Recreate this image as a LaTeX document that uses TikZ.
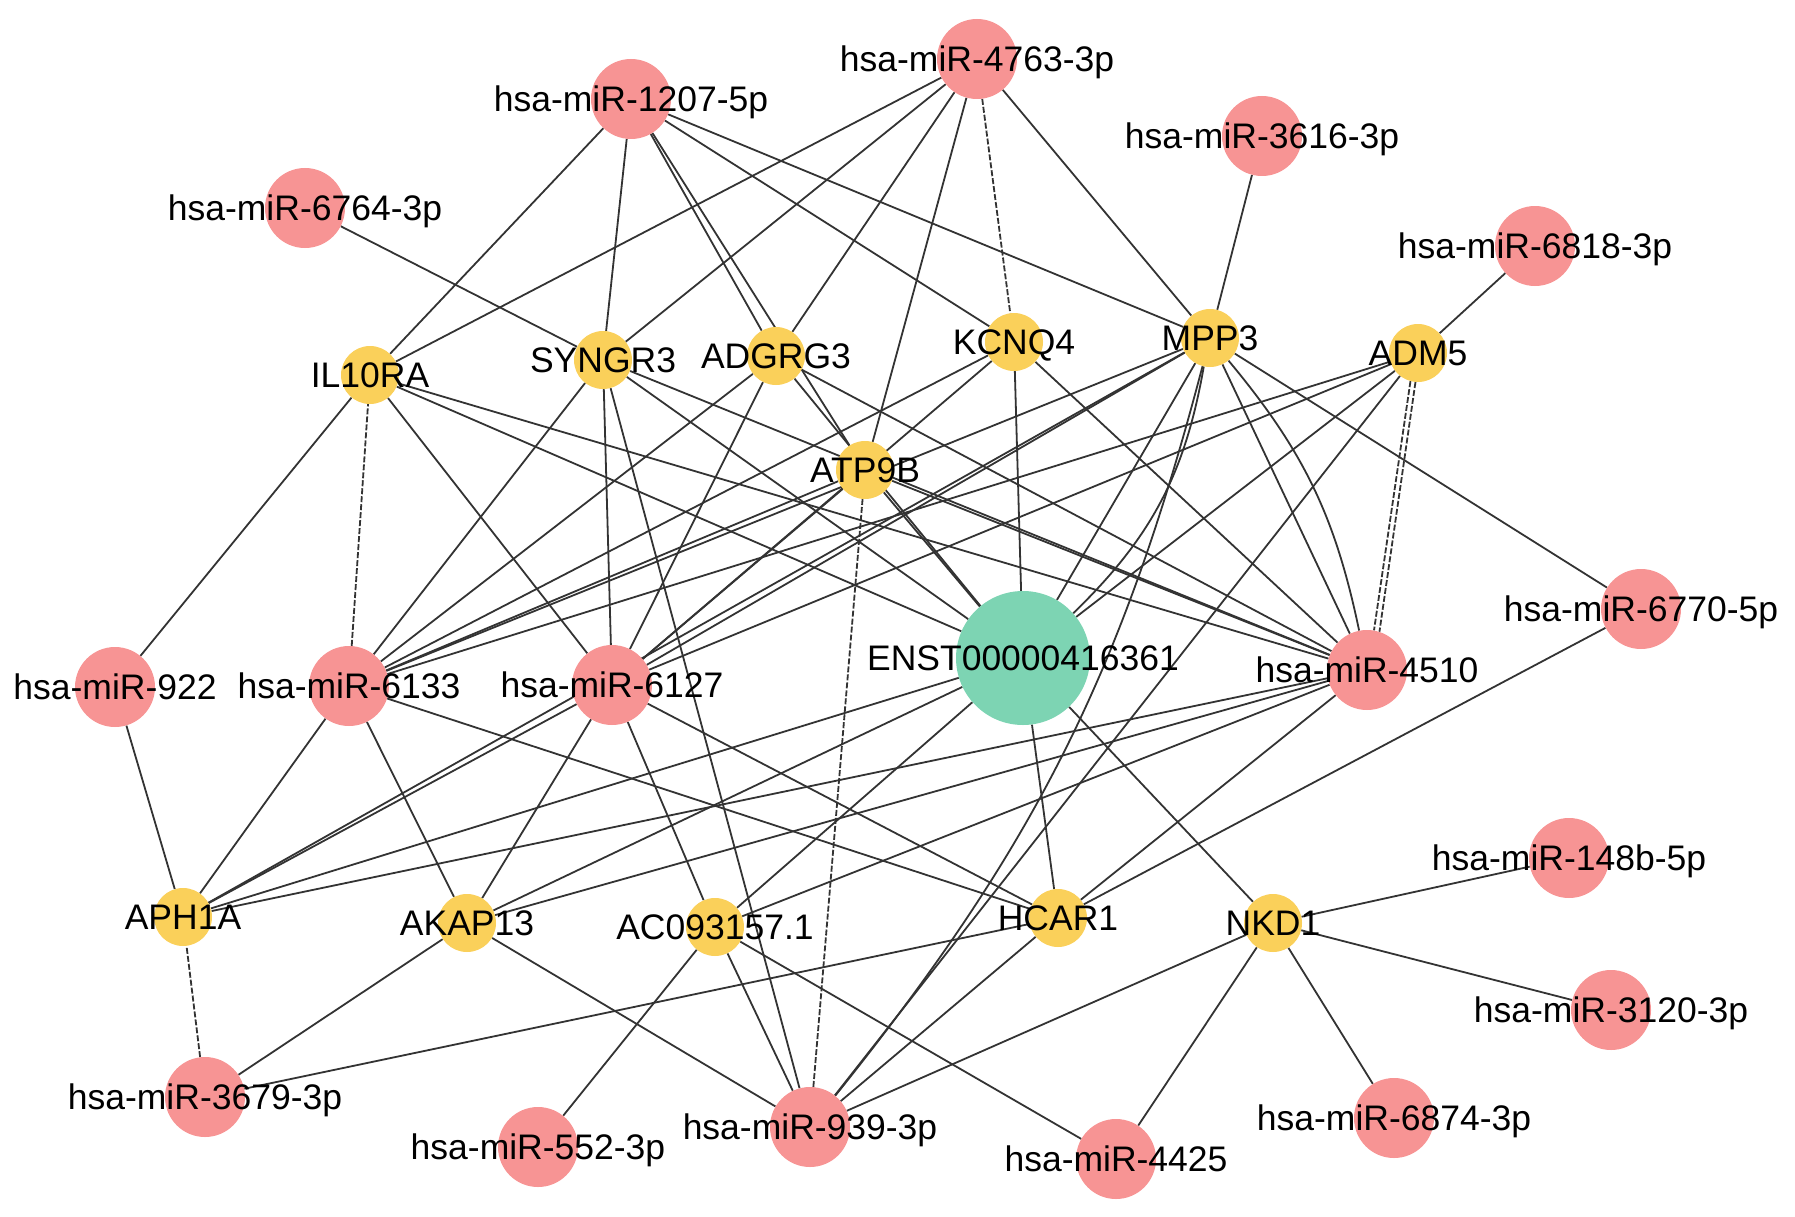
\documentclass[tikz,border=0pt]{standalone}
\usepackage{fontspec}
\setmainfont{Liberation Sans}
\newcommand\labfont{\fontsize{35.5}{40}\selectfont}
\definecolor{mirc}{HTML}{F79494}
\definecolor{genec}{HTML}{FAD05A}
\definecolor{lncc}{HTML}{7DD4B3}
\definecolor{edgec}{HTML}{333333}
\pgfdeclarelayer{bg}
\pgfsetlayers{bg,main}
\tikzset{
  mir/.style={circle, fill=mirc, minimum size=80pt, inner sep=0pt},
  gene/.style={circle, fill=genec, minimum size=58pt, inner sep=0pt},
  lnc/.style={circle, fill=lncc, minimum size=134pt, inner sep=0pt},
  lab/.style={font=\labfont, inner sep=0pt, text height=25.5pt, text depth=0pt, text=black},
  link/.style={draw=edgec, line width=1.8pt},
  dlink/.style={link, dash pattern=on 6pt off 2pt},
}
\begin{document}
\begin{tikzpicture}[x=1pt,y=-1pt]
\useasboundingbox (0,0) rectangle (1795,1217);
% miRNA nodes
\node[mir] (m4763) at (977,59) {};
\node[mir] (m1207) at (631,99) {};
\node[mir] (m3616) at (1262,136) {};
\node[mir] (m6764) at (305,208) {};
\node[mir] (m6818) at (1535,246) {};
\node[mir] (m6770) at (1641,609) {};
\node[mir] (m4510) at (1367,670) {};
\node[mir] (m922) at (115,687) {};
\node[mir] (m6133) at (349,686) {};
\node[mir] (m6127) at (612,685) {};
\node[mir] (m148b) at (1569,858) {};
\node[mir] (m3120) at (1611,1010) {};
\node[mir] (m3679) at (205,1097) {};
\node[mir] (m6874) at (1394,1118) {};
\node[mir] (m552) at (538,1147) {};
\node[mir] (m939) at (810,1127) {};
\node[mir] (m4425) at (1116,1159) {};
% gene nodes
\node[gene] (il10ra) at (370,375) {};
\node[gene] (syngr3) at (603,360) {};
\node[gene] (adgrg3) at (776,356) {};
\node[gene] (kcnq4) at (1014,342) {};
\node[gene] (mpp3) at (1210,338) {};
\node[gene] (adm5) at (1418,353) {};
\node[gene] (atp9b) at (865,470) {};
\node[gene] (aph1a) at (183,917) {};
\node[gene] (akap13) at (467,923) {};
\node[gene] (ac093) at (715,927) {};
\node[gene] (hcar1) at (1058,918) {};
\node[gene] (nkd1) at (1273,923) {};
% lncRNA
\node[lnc] (enst) at (1023,658) {};

\begin{pgfonlayer}{bg}
% lncRNA edges
\foreach \g in {il10ra,syngr3,adgrg3,kcnq4,mpp3,adm5,atp9b,aph1a,akap13,ac093,hcar1,nkd1}
  \draw[link] (enst) -- (\g);
\draw[link] (enst) to[bend right=18] (mpp3);
% miR-4763-3p
\foreach \g in {il10ra,syngr3,adgrg3,atp9b,mpp3} \draw[link] (m4763) -- (\g);
\draw[dlink] (m4763) -- (kcnq4);
% miR-1207-5p
\foreach \g in {il10ra,syngr3,adgrg3,atp9b,kcnq4,mpp3} \draw[link] (m1207) -- (\g);
% single partners
\draw[link] (m3616) -- (mpp3);
\draw[link] (m6764) -- (syngr3);
\draw[link] (m6818) -- (adm5);
\draw[link] (m6770) -- (mpp3);
\draw[link] (m6770) -- (hcar1);
% miR-4510
\foreach \g in {il10ra,syngr3,adgrg3,atp9b,kcnq4,mpp3,aph1a,akap13,ac093,hcar1} \draw[link] (m4510) -- (\g);
\draw[link] (mpp3) to[bend left=14] (m4510);
\draw[dlink] (adm5.255) -- (m4510.80);
\draw[dlink] (adm5.265) -- (m4510.72);
% miR-922
\draw[link] (m922) -- (il10ra);
\draw[link] (m922) -- (aph1a);
% miR-6133
\draw[dlink] (m6133) -- (il10ra);
\foreach \g in {syngr3,adgrg3,kcnq4,atp9b,mpp3,adm5,aph1a,akap13,hcar1} \draw[link] (m6133) -- (\g);
% miR-6127
\foreach \g in {il10ra,syngr3,adgrg3,kcnq4,atp9b,mpp3,adm5,aph1a,akap13,ac093,hcar1} \draw[link] (m6127) -- (\g);
\draw[link] (aph1a) -- (mpp3);
% NKD1
\foreach \m in {m148b,m3120,m6874,m4425,m939} \draw[link] (nkd1) -- (\m);
% others
\draw[link] (m4425) -- (ac093);
\draw[link] (m552) -- (ac093);
\draw[dlink] (m3679) -- (aph1a);
\draw[link] (m3679) -- (akap13);
\draw[link] (m3679) -- (hcar1);
% miR-939-3p
\foreach \g in {akap13,ac093,syngr3,hcar1,adm5} \draw[link] (m939) -- (\g);
\draw[dlink] (m939) -- (atp9b);
\draw[link] (m939) to[bend right=12] (mpp3);
\end{pgfonlayer}

% labels
\node[lab] (t4763) at (m4763) {hsa-miR-4763-3p};
\node[lab] (t1207) at (m1207) {hsa-miR-1207-5p};
\node[lab] (t3616) at (m3616) {hsa-miR-3616-3p};
\node[lab] (t6764) at (m6764) {hsa-miR-6764-3p};
\node[lab] (t6818) at (m6818) {hsa-miR-6818-3p};
\node[lab] (t6770) at (m6770) {hsa-miR-6770-5p};
\node[lab] (t4510) at (m4510) {hsa-miR-4510};
\node[lab] (t922) at (m922) {hsa-miR-922};
\node[lab] (t6133) at (m6133) {hsa-miR-6133};
\node[lab] (t6127) at (m6127) {hsa-miR-6127};
\node[lab] (t148b) at (m148b) {hsa-miR-148b-5p};
\node[lab] (t3120) at (m3120) {hsa-miR-3120-3p};
\node[lab] (t3679) at (m3679) {hsa-miR-3679-3p};
\node[lab] (t6874) at (m6874) {hsa-miR-6874-3p};
\node[lab] (t552) at (m552) {hsa-miR-552-3p};
\node[lab] (t939) at (m939) {hsa-miR-939-3p};
\node[lab] (t4425) at (m4425) {hsa-miR-4425};
\node[lab] (til10ra) at (il10ra) {IL10RA};
\node[lab] (tsyngr3) at (syngr3) {SYNGR3};
\node[lab] (tadgrg3) at (adgrg3) {ADGRG3};
\node[lab] (tkcnq4) at (kcnq4) {KCNQ4};
\node[lab] (tmpp3) at (mpp3) {MPP3};
\node[lab] (tadm5) at (adm5) {ADM5};
\node[lab] (tatp9b) at (atp9b) {ATP9B};
\node[lab] (taph1a) at (aph1a) {APH1A};
\node[lab] (takap13) at (akap13) {AKAP13};
\node[lab] (tac093) at (ac093) {AC093157.1};
\node[lab] (thcar1) at (hcar1) {HCAR1};
\node[lab] (tnkd1) at (nkd1) {NKD1};
\node[lab] (tenst) at (enst) {ENST00000416361};
\end{tikzpicture}
\end{document}
